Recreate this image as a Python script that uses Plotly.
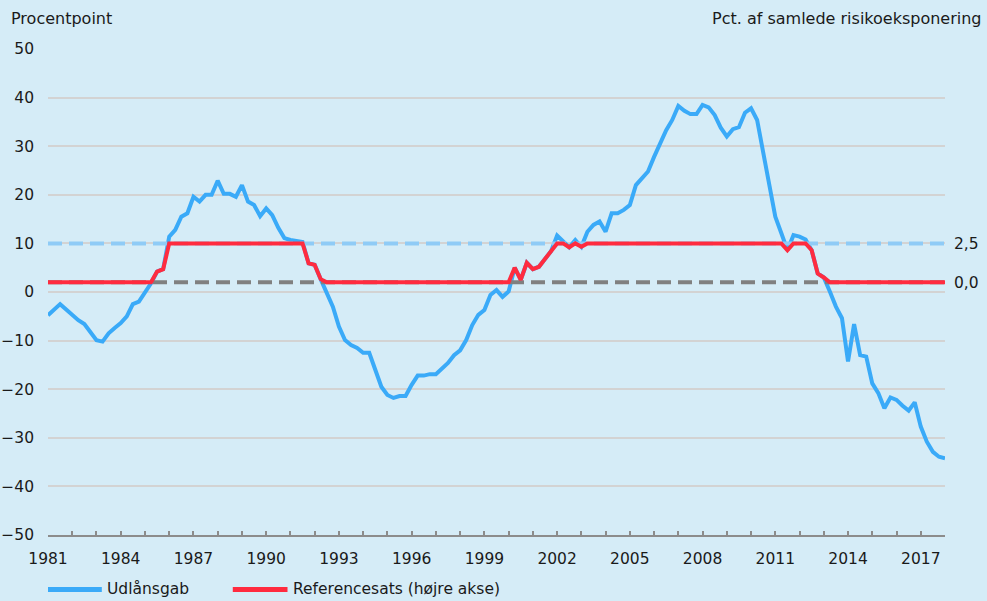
import numpy as np
import plotly.graph_objects as go

# quarterly observations 1981K1 .. 2018K1
quarters = np.arange(1981, 2018.01, 0.25)

# Udlånsgab, procentpoint (left axis)
udlaansgab = [
    -4.8, -3.6, -2.5, -3.6,      # 1981
    -4.7, -5.8, -6.6, -8.3,      # 1982
    -9.9, -10.2, -8.5, -7.4,     # 1983
    -6.4, -5.0, -2.5, -2.0,      # 1984
    0.0, 1.8, 4.2, 4.7,          # 1985
    11.4, 12.8, 15.5, 16.2,      # 1986
    19.6, 18.6, 20.0, 20.0,      # 1987
    22.9, 20.2, 20.2, 19.6,      # 1988
    22.0, 18.6, 17.9, 15.6,      # 1989
    17.2, 15.8, 13.2, 11.1,      # 1990
    10.7, 10.6, 10.3, 5.9,       # 1991
    5.6, 2.6, -0.2, -3.0,        # 1992
    -7.1, -9.9, -10.9, -11.5,    # 1993
    -12.5, -12.5, -16.0, -19.5,  # 1994
    -21.2, -21.8, -21.4, -21.4,  # 1995
    -19.1, -17.2, -17.2, -16.9,  # 1996
    -16.9, -15.7, -14.6, -13.0,  # 1997
    -12.0, -9.9, -6.8, -4.7,     # 1998
    -3.7, -0.6, 0.4, -1.0,       # 1999
    0.1, 5.0, 2.5, 6.0,          # 2000
    4.7, 5.2, 6.8, 8.4,          # 2001
    11.6, 10.5, 9.2, 10.7,       # 2002
    9.3, 12.4, 13.8, 14.5,       # 2003
    12.4, 16.2, 16.2, 16.9,      # 2004
    17.9, 22.0, 23.4, 24.8,      # 2005
    27.8, 30.6, 33.3, 35.4,      # 2006
    38.3, 37.3, 36.6, 36.6,      # 2007
    38.5, 38.0, 36.4, 33.8,      # 2008
    32.0, 33.5, 33.9, 36.9,      # 2009
    37.8, 35.4, 28.5, 21.7,      # 2010
    15.5, 12.1, 8.6, 11.7,       # 2011
    11.4, 10.8, 8.6, 3.8,        # 2012
    3.0, 0.1, -3.0, -5.4,        # 2013
    -14.3, -6.6, -13.0, -13.3,   # 2014
    -18.8, -20.8, -23.9, -21.7,  # 2015
    -22.2, -23.4, -24.4, -22.7,  # 2016
    -27.7, -30.8, -32.9, -33.9,  # 2017
    -34.2,                       # 2018
]

# Referencesats, pct. af samlede risikoeksponering (right axis)
referencesats = (
    [0.0] * 16                                   # 1981-1984
    + [0.0, 0.0, 0.69, 0.84]                     # 1985
    + [2.5] * 23                                 # 1986K1-1991K3
    + [1.22, 1.12, 0.2]                          # 1991K4-1992K2
    + [0.0] * 31                                 # 1992K3-2000K1
    + [0.94, 0.16, 1.25, 0.84, 1.0, 1.5, 2.0]    # 2000K2-2001K4
    + [2.5, 2.5, 2.25, 2.5, 2.28]                # 2002K1-2003K1
    + [2.5] * 33                                 # 2003K2-2011K2
    + [2.06, 2.5, 2.5, 2.5, 2.06, 0.56, 0.31]    # 2011K3-2013K1
    + [0.0] * 21                                 # 2013K2-2018K1
)

buffer_max = [2.5, 2.5]
buffer_min = [0.0, 0.0]
buffer_x = [1981, 2018]

left_ticks = list(range(-50, 51, 10))
right_ticks = [0.0, 2.5]
right_labels = ["0,0", "2,5"]
year_ticks = list(range(1981, 2018, 3))

BG = "#D5ECF7"
BLUE = "#3AAAF8"
RED = "#FF2B3F"
FONT = "DejaVu Sans"
FS = 15.5
TXT = "#1a1a1a"

fig = go.Figure()

fig.add_trace(go.Scatter(x=buffer_x, y=buffer_max, yaxis="y2", mode="lines",
                         line=dict(color="#8FCBF6", width=4, dash="14px,7px"),
                         showlegend=False, hoverinfo="skip"))
fig.add_trace(go.Scatter(x=buffer_x, y=buffer_min, yaxis="y2", mode="lines",
                         line=dict(color="#808080", width=4, dash="14px,7px"),
                         showlegend=False, hoverinfo="skip"))
fig.add_trace(go.Scatter(x=quarters, y=udlaansgab, mode="lines", name="Udlånsgab",
                         line=dict(color=BLUE, width=4), showlegend=False))
fig.add_trace(go.Scatter(x=quarters, y=referencesats, yaxis="y2", mode="lines",
                         name="Referencesats (højre akse)",
                         line=dict(color=RED, width=4), showlegend=False))

# legend drawn by hand under the plot
legend_items = [("Udlånsgab", BLUE, 0.0, 0.060), ("Referencesats (højre akse)", RED, 0.206, 0.267)]
for label, color, x0, x1 in legend_items:
    fig.add_shape(type="line", xref="paper", yref="paper", x0=x0, x1=x1, y0=-0.112, y1=-0.112,
                  line=dict(color=color, width=5))
    fig.add_annotation(text=label, xref="paper", yref="paper", x=x1 + 0.004, y=-0.112,
                       xanchor="left", yanchor="middle", showarrow=False,
                       font=dict(family=FONT, size=FS, color=TXT))

fig.add_annotation(text="Procentpoint", xref="paper", yref="paper", x=-0.044, y=1.062,
                   xanchor="left", yanchor="middle", showarrow=False,
                   font=dict(family=FONT, size=16, color=TXT))
fig.add_annotation(text="Pct. af samlede risikoeksponering", xref="paper", yref="paper",
                   x=1.0435, y=1.062, xanchor="right", yanchor="middle", showarrow=False,
                   font=dict(family=FONT, size=16, color=TXT))

fig.update_layout(
    width=987, height=601,
    margin=dict(l=48, r=42, t=49, b=66),
    paper_bgcolor=BG, plot_bgcolor=BG,
    font=dict(family=FONT, size=FS, color=TXT),
    showlegend=False,
    xaxis=dict(range=[1981, 2018], tickvals=year_ticks, ticks="inside", ticklen=4,
               tickwidth=2, tickcolor="#8c8c8c", showgrid=False, zeroline=False,
               showline=True, linecolor="#8c8c8c", linewidth=2, automargin=False,
               ticklabelstandoff=8,
               minor=dict(dtick=1, tick0=1981, ticks="inside", ticklen=4,
                          tickwidth=2, tickcolor="#8c8c8c")),
    yaxis=dict(range=[-50, 50], tickvals=left_ticks, showgrid=True, gridcolor="#D3D3D3",
               gridwidth=2, zeroline=False, ticklabelstandoff=13, automargin=False),
    yaxis2=dict(range=[-16.25, 15], overlaying="y", side="right", tickvals=right_ticks,
                ticktext=right_labels, showgrid=False, zeroline=False,
                ticklabelstandoff=8, automargin=False),
)

fig.write_html("out.html", config={"displayModeBar": False},
               post_script="document.body.style.margin='0';")
